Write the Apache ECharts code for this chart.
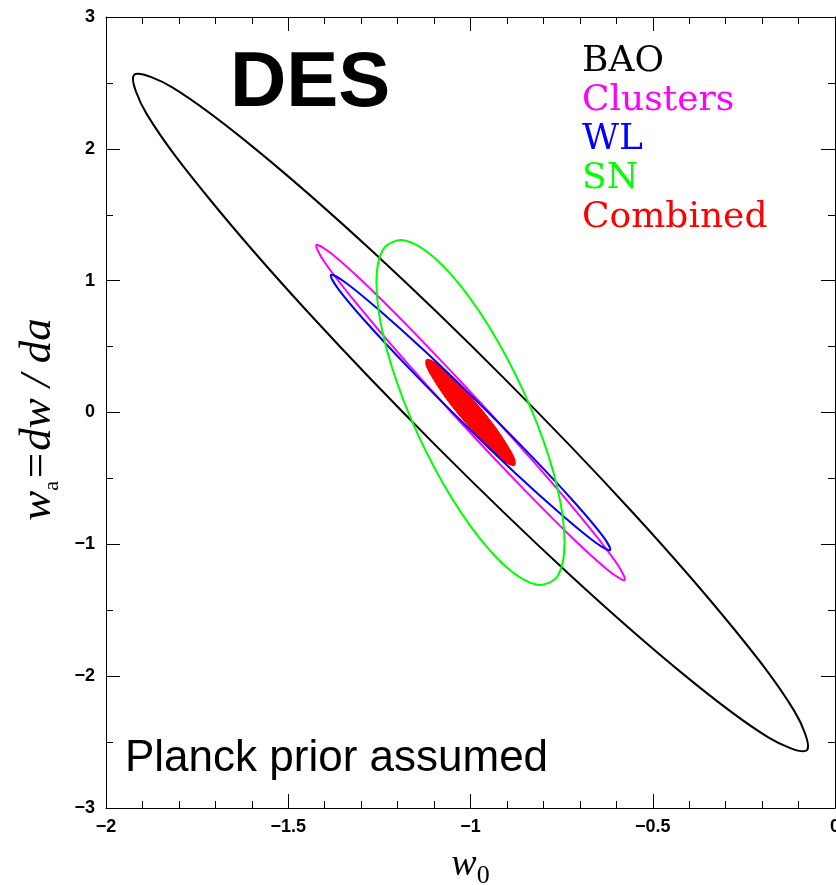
<!DOCTYPE html>
<html>
<head>
<meta charset="utf-8">
<script src="https://cdn.jsdelivr.net/npm/echarts@6/dist/echarts.min.js"></script>
<style>
  html, body { margin: 0; padding: 0; background: #fff; }
  #chart { width: 836px; height: 885px; }
</style>
</head>
<body>
<div id="chart"></div>
<script>
// 68% contours in the (w0, wa) plane
const probeNames = ["BAO", "Clusters", "WL", "SN", "Combined"];

const baoPts = [
  [-0.077, -2.561], [-0.111, -2.267], [-0.281, -1.629], [-0.560, -0.743],
  [-0.907, 0.257], [-1.267, 1.217], [-1.587, 1.992], [-1.817, 2.464],
  [-1.923, 2.561], [-1.889, 2.267], [-1.719, 1.629], [-1.440, 0.743],
  [-1.093, -0.257], [-0.733, -1.217], [-0.413, -1.992], [-0.183, -2.464],
];
const clusterPts = [
  [-0.577, -1.271], [-0.598, -1.147], [-0.681, -0.848], [-0.812, -0.420],
  [-0.972, 0.072], [-1.136, 0.553], [-1.279, 0.950], [-1.380, 1.202],
  [-1.423, 1.271], [-1.402, 1.147], [-1.319, 0.848], [-1.188, 0.420],
  [-1.028, -0.072], [-0.864, -0.553], [-0.721, -0.950], [-0.620, -1.202],
];
const wlPts = [
  [-0.617, -1.043], [-0.637, -0.938], [-0.712, -0.690], [-0.831, -0.337],
  [-0.976, 0.068], [-1.124, 0.462], [-1.254, 0.785], [-1.345, 0.990],
  [-1.383, 1.043], [-1.363, 0.938], [-1.288, 0.690], [-1.169, 0.337],
  [-1.024, -0.068], [-0.876, -0.462], [-0.746, -0.785], [-0.655, -0.990],
];
const snPts = [
  [-0.742, -0.985], [-0.761, -1.240], [-0.817, -1.306], [-0.901, -1.173],
  [-1.000, -0.862], [-1.099, -0.419], [-1.183, 0.087], [-1.239, 0.580],
  [-1.258, 0.985], [-1.239, 1.240], [-1.183, 1.306], [-1.099, 1.173],
  [-1.000, 0.862], [-0.901, 0.419], [-0.817, -0.087], [-0.761, -0.580],
];
const combinedPts = [
  [-0.879, -0.401], [-0.879, -0.351], [-0.899, -0.248], [-0.933, -0.106],
  [-0.978, 0.051], [-1.026, 0.201], [-1.070, 0.320], [-1.104, 0.391],
  [-1.121, 0.401], [-1.121, 0.351], [-1.101, 0.248], [-1.067, 0.106],
  [-1.022, -0.051], [-0.974, -0.201], [-0.930, -0.320], [-0.896, -0.391],
];

const xTicks = [-2, -1.5, -1, -0.5, 0];
const yTicks = [-3, -2, -1, 0, 1, 2, 3];

const colors = {
  BAO: "#000000",
  Clusters: "#ff00ff",
  WL: "#0000ff",
  SN: "#00ff00",
  Combined: "#ff0000",
};

const chart = echarts.init(document.getElementById("chart"), null, { renderer: "canvas" });

function minus(v) {
  return String(v).replace("-", "\u2212");
}

// one closed (smoothed) outline per probe, drawn through the grid's own scales
function contour(name, pts, filled) {
  const color = colors[name];
  return {
    type: "custom",
    name: name,
    coordinateSystem: "cartesian2d",
    data: pts,
    encode: { x: 0, y: 1 },
    silent: true,
    renderItem: function (params, api) {
      if (params.dataIndex !== 0) return null;
      return {
        type: "polygon",
        shape: { points: pts.map((p) => api.coord(p)), smooth: 0.34 },
        style: filled
          ? { fill: color, stroke: color, lineWidth: 1 }
          : { fill: "none", stroke: color, lineWidth: 2 },
      };
    },
  };
}

const axisBase = {
  type: "value",
  axisLine: { show: true, onZero: false, lineStyle: { color: "#000", width: 1 } },
  axisTick: { show: true, inside: true, length: 14, lineStyle: { color: "#000", width: 1 } },
  minorTick: { show: true, length: 7, lineStyle: { color: "#000", width: 1 } },
  splitLine: { show: false },
  minorSplitLine: { show: false },
};

const tickFont = { fontFamily: "'Liberation Sans', sans-serif", fontWeight: "bold", fontSize: 18, color: "#000" };

const xBase = Object.assign({}, axisBase, {
  min: xTicks[0],
  max: xTicks[xTicks.length - 1],
  interval: xTicks[1] - xTicks[0],
  minorTick: Object.assign({}, axisBase.minorTick, { splitNumber: 5 }),
});
const yBase = Object.assign({}, axisBase, {
  min: yTicks[0],
  max: yTicks[yTicks.length - 1],
  interval: yTicks[1] - yTicks[0],
  minorTick: Object.assign({}, axisBase.minorTick, { splitNumber: 2 }),
});

chart.setOption({
  animation: false,
  backgroundColor: "#fff",
  grid: { left: 106, right: 1, top: 17, bottom: 77, outerBoundsMode: "none", containLabel: false },
  xAxis: [
    Object.assign({}, xBase, {
      position: "bottom",
      axisLabel: Object.assign({ margin: 10, showMinLabel: true, showMaxLabel: true, formatter: minus }, tickFont),
      name: "{w|w}{s|0}",
      nameLocation: "middle",
      nameGap: 33,
      nameTextStyle: {
        rich: {
          w: { fontFamily: "'Liberation Serif', serif", fontStyle: "italic", fontSize: 38, lineHeight: 48, color: "#000" },
          s: { fontFamily: "'Liberation Serif', serif", fontSize: 26, lineHeight: 18, verticalAlign: "bottom", color: "#000" },
        },
      },
    }),
    Object.assign({}, xBase, { position: "top", axisLabel: { show: false } }),
  ],
  yAxis: [
    Object.assign({}, yBase, {
      position: "left",
      axisLabel: Object.assign({ margin: 11, showMinLabel: true, showMaxLabel: true, formatter: minus }, tickFont),
      name: "{w|w}{s|a}{t|=dw / da}",
      nameLocation: "middle",
      nameRotate: 90,
      nameGap: 43,
      nameTextStyle: {
        padding: [0, 14, 0, 0],
        rich: {
          w: { fontFamily: "'Liberation Serif', serif", fontStyle: "italic", fontSize: 45, lineHeight: 50, color: "#000" },
          s: { fontFamily: "'Liberation Serif', serif", fontSize: 22, lineHeight: 31, verticalAlign: "bottom", color: "#000" },
          t: { fontFamily: "'Liberation Serif', serif", fontStyle: "italic", fontSize: 45, lineHeight: 50, color: "#000" },
        },
      },
    }),
    Object.assign({}, yBase, { position: "right", axisLabel: { show: false } }),
  ],
  legend: {
    data: probeNames.map((n) => ({ name: n, textStyle: { color: colors[n] } })),
    orient: "vertical",
    left: 577,
    top: 42,
    padding: 0,
    itemGap: 0,
    itemWidth: 0,
    itemHeight: 0,
    selectedMode: false,
    textStyle: { fontFamily: "'DejaVu Serif', serif", fontSize: 36, lineHeight: 39 },
  },
  graphic: [
    {
      type: "text",
      x: 230,
      y: 84,
      style: { text: "DES", font: "bold 78px 'Liberation Sans', sans-serif", fill: "#000", textVerticalAlign: "middle" },
    },
    {
      type: "text",
      x: 125,
      y: 759,
      style: { text: "Planck prior assumed", font: "44px 'Liberation Sans', sans-serif", fill: "#000", textVerticalAlign: "middle" },
    },
  ],
  series: [
    contour("Combined", combinedPts, true),
    contour("BAO", baoPts, false),
    contour("Clusters", clusterPts, false),
    contour("WL", wlPts, false),
    contour("SN", snPts, false),
  ],
});

window.addEventListener("resize", () => chart.resize());
</script>
</body>
</html>
